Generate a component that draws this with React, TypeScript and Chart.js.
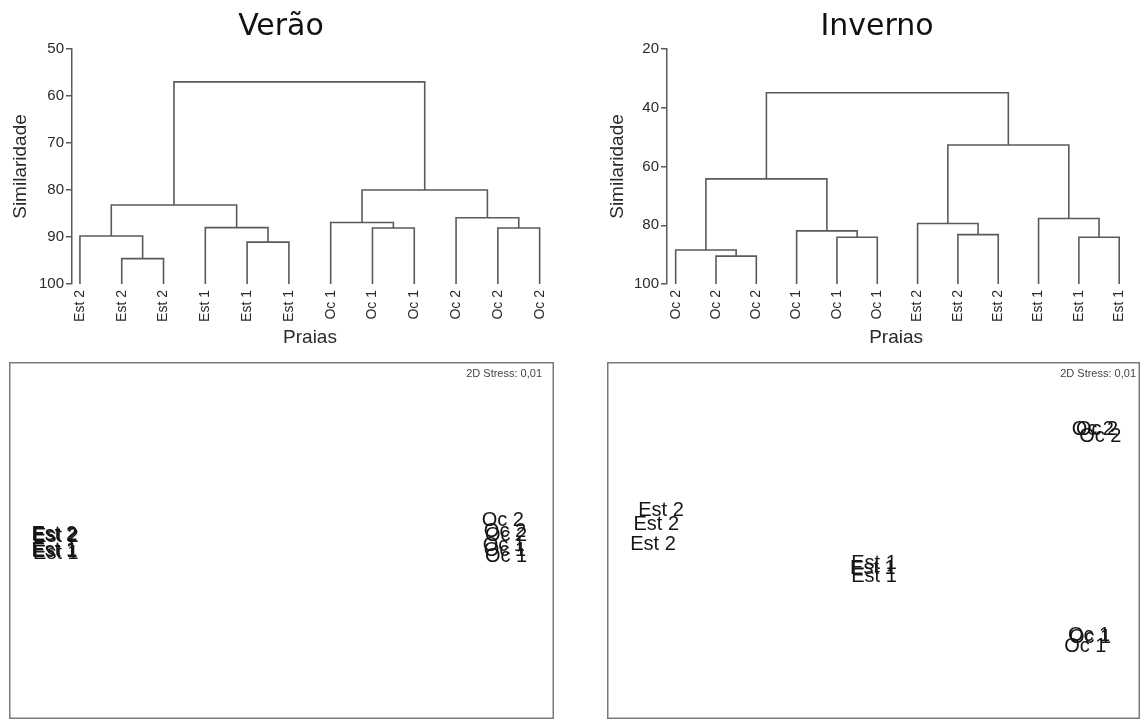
import React, { useEffect, useRef } from 'react';
import { Chart, registerables } from 'chart.js';

Chart.register(...registerables);
Chart.defaults.font.family = '"Liberation Sans", Arial, sans-serif';

// ---------- Dendrogram: Verão ----------
const verLeaves = ['Est 2', 'Est 2', 'Est 2', 'Est 1', 'Est 1', 'Est 1', 'Oc 1', 'Oc 1', 'Oc 1', 'Oc 2', 'Oc 2', 'Oc 2'];
// merge k joins cluster verJoinA[k] and verJoinB[k] (ids >= 12 refer to earlier merges)
const verJoinA = [1, 0, 4, 3, 13, 7, 6, 10, 9, 18, 16];
const verJoinB = [2, 12, 5, 14, 15, 8, 17, 11, 19, 20, 21];
const verJoinH = [94.6, 89.8, 91.1, 88.0, 83.2, 88.1, 86.9, 88.1, 85.9, 80.0, 57.0];
const verTicks = [50, 60, 70, 80, 90, 100];

// ---------- Dendrogram: Inverno ----------
const invLeaves = ['Oc 2', 'Oc 2', 'Oc 2', 'Oc 1', 'Oc 1', 'Oc 1', 'Est 2', 'Est 2', 'Est 2', 'Est 1', 'Est 1', 'Est 1'];
const invJoinA = [1, 0, 4, 3, 13, 7, 6, 10, 9, 18, 16];
const invJoinB = [2, 12, 5, 14, 15, 8, 17, 11, 19, 20, 21];
const invJoinH = [90.5, 88.4, 84.1, 81.9, 64.2, 83.2, 79.4, 84.1, 77.7, 52.7, 34.9];
const invTicks = [20, 40, 60, 80, 100];

// ---------- MDS: Verão ----------
const verMdsLabels = ['Est 2', 'Est 2', 'Est 2', 'Est 1', 'Est 1', 'Est 1', 'Oc 1', 'Oc 1', 'Oc 1', 'Oc 2', 'Oc 2', 'Oc 2'];
const verMdsX = [8.3, 8.4, 8.6, 8.3, 8.4, 8.6, 90.8, 91.0, 91.2, 90.6, 91.0, 91.2];
const verMdsY = [51.8, 51.3, 51.0, 47.3, 46.8, 46.5, 48.5, 47.1, 45.4, 55.5, 52.4, 51.3];

// ---------- MDS: Inverno ----------
const invMdsLabels = ['Est 2', 'Est 2', 'Est 2', 'Est 1', 'Est 1', 'Est 1', 'Oc 1', 'Oc 1', 'Oc 1', 'Oc 2', 'Oc 2', 'Oc 2'];
const invMdsX = [10.1, 9.2, 8.6, 49.9, 49.7, 49.9, 90.1, 90.3, 89.4, 90.8, 91.6, 92.2];
const invMdsY = [58.5, 54.6, 49.0, 43.7, 42.3, 39.8, 23.3, 22.7, 20.2, 81.2, 81.0, 79.0];

const stressText = '2D Stress: 0,01';

const LINE = '#5a5a5a';
const TEXT = '#2a2a2a';

function buildSegments(leaves: string[], A: number[], B: number[], H: number[]) {
  const pos = leaves.map((_, i) => i);
  const ht = leaves.map(() => 100);
  const segs: { x: number; y: number }[][] = [];
  A.forEach((a, k) => {
    const b = B[k];
    const h = H[k];
    segs.push([
      { x: pos[a], y: ht[a] },
      { x: pos[a], y: h },
      { x: pos[b], y: h },
      { x: pos[b], y: ht[b] },
    ]);
    pos.push((pos[a] + pos[b]) / 2);
    ht.push(h);
  });
  return segs;
}

type DendroProps = {
  title: string;
  titleX: number;
  leaves: string[];
  A: number[];
  B: number[];
  H: number[];
  ticks: number[];
  yMin: number;
  xMin: number;
  xMax: number;
  yWidth: number;
  padRight: number;
  yTitlePad: number;
  left: number;
};

const W = 571;
const DH = 355;

function Dendrogram(p: DendroProps) {
  const ref = useRef<HTMLCanvasElement>(null);
  useEffect(() => {
    const segs = buildSegments(p.leaves, p.A, p.B, p.H);
    const titlePlugin = {
      id: 'mainTitle',
      afterDraw(chart: any) {
        const ctx = chart.ctx;
        ctx.save();
        ctx.font = '30px "DejaVu Sans", sans-serif';
        ctx.fillStyle = '#111';
        ctx.textAlign = 'center';
        ctx.textBaseline = 'alphabetic';
        ctx.fillText(p.title, p.titleX, 35);
        ctx.restore();
      },
    };
    const chart = new Chart(ref.current as HTMLCanvasElement, {
      type: 'scatter',
      data: {
        datasets: segs.map((s) => ({
          data: s,
          showLine: true,
          borderColor: LINE,
          borderWidth: 1.6,
          pointRadius: 0,
          pointHoverRadius: 0,
          fill: false,
          tension: 0,
        })),
      },
      options: {
        animation: false,
        responsive: false,
        maintainAspectRatio: false,
        layout: { padding: { top: 49, right: p.padRight, left: 0, bottom: 0 } },
        plugins: {
          legend: { display: false },
          tooltip: { enabled: false },
          title: { display: false },
        },
        scales: {
          x: {
            type: 'linear',
            min: p.xMin,
            max: p.xMax,
            afterBuildTicks: (s: any) => {
              s.ticks = p.leaves.map((_, i) => ({ value: i }));
            },
            afterFit: (s: any) => {
              s.height = DH - 284;
            },
            grid: { display: false, drawTicks: false },
            border: { display: false },
            ticks: {
              autoSkip: false,
              minRotation: 90,
              maxRotation: 90,
              padding: 6,
              color: TEXT,
              font: { size: 14 },
              callback: (v: any) => p.leaves[v] ?? '',
            },
            title: {
              display: true,
              text: 'Praias',
              color: TEXT,
              font: { size: 19 },
              padding: { top: 0, bottom: 6 },
            },
          },
          y: {
            type: 'linear',
            reverse: true,
            min: p.yMin,
            max: 100,
            afterBuildTicks: (s: any) => {
              s.ticks = p.ticks.map((v) => ({ value: v }));
            },
            afterFit: (s: any) => {
              s.width = p.yWidth;
            },
            grid: { drawOnChartArea: false, drawTicks: true, tickLength: 6, color: LINE, lineWidth: 1.5 },
            border: { display: true, color: LINE, width: 1.5 },
            ticks: { padding: 2, color: TEXT, font: { size: 15 } },
            title: {
              display: true,
              text: 'Similaridade',
              color: TEXT,
              font: { size: 19 },
              padding: { top: p.yTitlePad, bottom: 0 },
            },
          },
        },
      },
      plugins: [titlePlugin],
    } as any);
    return () => chart.destroy();
  }, []);
  return (
    <canvas
      ref={ref}
      width={W}
      height={DH}
      style={{ position: 'absolute', left: p.left, top: 0, width: W, height: DH, display: 'block' }}
    />
  );
}

type MdsProps = {
  labels: string[];
  xs: number[];
  ys: number[];
  left: number;
  width: number;
  boxW: number;
  stressRight: number;
};

const MH = 357;

function Mds(p: MdsProps) {
  const ref = useRef<HTMLCanvasElement>(null);
  useEffect(() => {
    const labelPlugin = {
      id: 'mdsLabels',
      afterDatasetsDraw(chart: any) {
        const ctx = chart.ctx;
        const meta = chart.getDatasetMeta(0);
        ctx.save();
        ctx.font = '20px "Liberation Sans", Arial, sans-serif';
        ctx.fillStyle = '#151515';
        ctx.textAlign = 'center';
        ctx.textBaseline = 'middle';
        meta.data.forEach((el: any, i: number) => {
          ctx.fillText(p.labels[i], el.x, el.y);
        });
        ctx.strokeStyle = '#7a7a7a';
        ctx.lineWidth = 1.5;
        ctx.strokeRect(0.75, 0.75, p.boxW, MH - 1.5);
        ctx.font = '11px "Liberation Sans", Arial, sans-serif';
        ctx.fillStyle = '#444';
        ctx.textAlign = 'right';
        ctx.fillText(stressText, p.stressRight, 12);
        ctx.restore();
      },
    };
    const chart = new Chart(ref.current as HTMLCanvasElement, {
      type: 'scatter',
      data: {
        datasets: [
          {
            data: p.xs.map((x, i) => ({ x, y: p.ys[i] })),
            pointRadius: 0,
            pointHoverRadius: 0,
          },
        ],
      },
      options: {
        animation: false,
        responsive: false,
        maintainAspectRatio: false,
        layout: { padding: 0 },
        plugins: { legend: { display: false }, tooltip: { enabled: false } },
        scales: {
          x: { type: 'linear', min: 0, max: 100, display: false },
          y: { type: 'linear', min: 0, max: 100, display: false },
        },
      },
      plugins: [labelPlugin],
    } as any);
    return () => chart.destroy();
  }, []);
  return (
    <canvas
      ref={ref}
      width={p.width}
      height={MH}
      style={{ position: 'absolute', left: p.left, top: 362, width: p.width, height: MH, display: 'block' }}
    />
  );
}

export default function App() {
  return (
    <div style={{ position: 'fixed', left: 0, top: 0, width: 1142, height: 719, background: '#fff', overflow: 'hidden' }}>
      <Dendrogram
        title="Verão"
        titleX={281}
        leaves={verLeaves}
        A={verJoinA}
        B={verJoinB}
        H={verJoinH}
        ticks={verTicks}
        yMin={50}
        xMin={-0.19}
        xMax={11.2}
        yWidth={72}
        padRight={23}
        yTitlePad={9}
        left={0}
      />
      <Dendrogram
        title="Inverno"
        titleX={306}
        leaves={invLeaves}
        A={invJoinA}
        B={invJoinB}
        H={invJoinH}
        ticks={invTicks}
        yMin={20}
        xMin={-0.215}
        xMax={11.15}
        yWidth={96}
        padRight={0}
        yTitlePad={35}
        left={571}
      />
      <Mds labels={verMdsLabels} xs={verMdsX} ys={verMdsY} left={9} width={545} boxW={543.5} stressRight={533} />
      <Mds labels={invMdsLabels} xs={invMdsX} ys={invMdsY} left={607} width={535} boxW={531.5} stressRight={529} />
    </div>
  );
}
